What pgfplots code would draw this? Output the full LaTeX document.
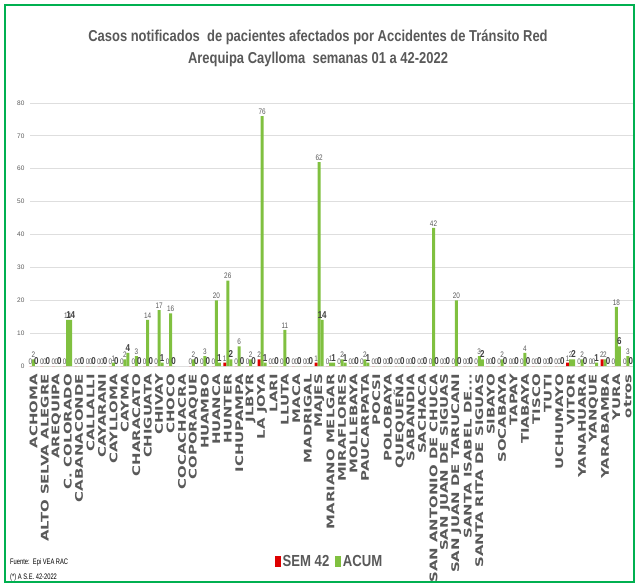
\documentclass[border=0pt]{standalone}
\usepackage{pgfplots}
\pgfplotsset{compat=1.18}
\usepackage{fontspec}
\setmainfont{Liberation Sans}
\newfontfamily\dejab{DejaVu Sans}[BoldFont={DejaVu Sans Bold}]
\definecolor{cgreen}{RGB}{128,192,64}
\definecolor{cred}{RGB}{222,0,0}
\definecolor{ctxt}{RGB}{89,89,89}
\definecolor{cdark}{RGB}{64,64,64}
\definecolor{cframe}{RGB}{0,176,80}
\newcommand\xl[1]{\scalebox{1.42}[1]{#1}}
\newcommand\nar[1]{\scalebox{0.8}[1]{#1}}
\begin{document}
\begin{tikzpicture}
\useasboundingbox (0,0) rectangle (636pt,583pt);
\draw[cframe, line width=1.2pt] (5pt,1pt) rectangle (634pt,578pt);
\node[text=ctxt, font=\bfseries\fontsize{15.8}{17}\selectfont] at (318pt,546pt) {\scalebox{0.82}[1]{Casos notificados\ \ de pacientes afectados por Accidentes de Tránsito Red}};
\node[text=ctxt, font=\bfseries\fontsize{15.8}{17}\selectfont] at (318pt,524pt) {\scalebox{0.82}[1]{Arequipa Caylloma\ \ semanas 01 a 42-2022}};
\node[anchor=west, text=black, font=\fontsize{8}{9}\selectfont, inner sep=0pt] at (10pt,21pt) {\scalebox{0.72}[1]{Fuente:\ \ Epi VEA RAC}};
\node[anchor=west, text=black, font=\fontsize{8}{9}\selectfont, inner sep=0pt] at (10pt,6pt) {\scalebox{0.72}[1]{(*) A S.E. 42-2022}};
\begin{axis}[
  at={(30pt,217pt)}, anchor=south west,
  scale only axis, width=603pt, height=263pt,
  ymin=0, ymax=80, xmin=-0.3, xmax=52.45,
  clip=false,
  axis line style={draw=none},
  ytick={0,10,...,80},
  ymajorgrids, major grid style={draw=black!13, line width=0.9pt},
  major tick length=0pt,
  /pgf/number format/assume math mode=true,
  yticklabel style={font=\fontsize{6.5}{7}\selectfont, text=ctxt, xshift=-2pt},
  xtick={0,...,52},
  xticklabels={\xl{ACHOMA},\xl{ALTO SELVA ALEGRE},\xl{AREQUIPA},\xl{C. COLORADO},\xl{CABANACONDE},\xl{CALLALLI},\xl{CAYARANI},\xl{CAYLLOMA},\xl{CAYMA},\xl{CHARACATO},\xl{CHIGUATA},\xl{CHIVAY},\xl{CHOCO},\xl{COCACHACRA},\xl{COPORAQUE},\xl{HUAMBO},\xl{HUANCA},\xl{HUNTER},\xl{ICHUPAMPA},\xl{JLBYR},\xl{LA JOYA},\xl{LARI},\xl{LLUTA},\xl{MACA},\xl{MADRIGAL},\xl{MAJES},\xl{MARIANO MELGAR},\xl{MIRAFLORES},\xl{MOLLEBAYA},\xl{PAUCARPATA},\xl{POCSI},\xl{POLOBAYA},\xl{QUEQUEÑA},\xl{SABANDIA},\xl{SACHACA},\xl{SAN ANTONIO DE CHUCA},\xl{SAN JUAN DE SIGUAS},\xl{SAN JUAN DE TARUCANI},\xl{SANTA ISABEL DE...},\xl{SANTA RITA DE SIGUAS},\xl{SIBAYO},\xl{SOCABAYA},\xl{TAPAY},\xl{TIABAYA},\xl{TISCO},\xl{TUTI},\xl{UCHUMAYO},\xl{VITOR},\xl{YANAHUARA},\xl{YANQUE},\xl{YARABAMBA},\xl{YURA},\xl{otros}},
  xticklabel style={rotate=90, anchor=east, font=\dejab\bfseries\fontsize{10.5}{11}\selectfont, text=ctxt, inner xsep=8pt, inner ysep=0pt},
  ybar, bar width=3pt,
  legend style={at={(rel axis cs:0.497,-0.745)}, anchor=center, draw=none, fill=none, legend columns=2, font=\bfseries\fontsize{16}{17}\selectfont, text=ctxt, /tikz/every even column/.append style={column sep=4pt}},
  legend image code/.code={\fill[#1] (0pt,-5pt) rectangle (5.5pt,6pt);},
  every node near coord/.append style={font=\fontsize{8}{9}\selectfont, text=ctxt, inner sep=1.5pt},
]
\addplot[fill=cred, draw=none, bar shift=-3pt, nodes near coords={\nar{\pgfmathprintnumber{\pgfplotspointmeta}}}] coordinates {
(0,0)(1,0)(2,0)(3,0)(4,0)(5,0)(6,0)(7,0)(8,0)(9,0)(10,0)(11,0)(12,0)
(14,0)(15,0)(16,0)(17,1)(18,0)(19,0)(20,2)(21,0)(22,0)(23,0)(24,0)(25,1)
(26,0)(27,0)(28,0)(29,0)(30,0)(31,0)(32,0)(33,0)(34,0)(35,0)(36,0)(37,0)
(38,0)(39,0)(40,0)(41,0)(42,0)(43,0)(44,0)(45,0)(46,0)(47,1)(48,0)(49,0)
(50,2)(51,0)(52,0)};
\addlegendentry{\scalebox{0.82}[1]{SEM 42}}
\addplot[fill=cgreen, draw=none, bar shift=0pt, nodes near coords={\nar{\pgfmathprintnumber{\pgfplotspointmeta}}}] coordinates {
(0,2)(1,0)(2,0)(3,14)(4,0)(5,0)(6,0)(7,1)(8,2)(9,3)(10,14)(11,17)(12,16)
(14,2)(15,3)(16,20)(17,26)(18,6)(19,2)(20,76)(21,0)(22,11)(23,0)(24,0)(25,62)
(26,1)(27,2)(28,0)(29,2)(30,0)(31,0)(32,0)(33,0)(34,0)(35,42)(36,0)(37,20)
(38,0)(39,3)(40,0)(41,2)(42,0)(43,4)(44,0)(45,0)(46,0)(47,2)(48,2)(49,0)
(50,2)(51,18)(52,3)};
\addlegendentry{\scalebox{0.82}[1]{ACUM}}
\addplot[fill=cgreen, draw=none, bar shift=3pt, forget plot, nodes near coords={\nar{\pgfmathprintnumber{\pgfplotspointmeta}}}, every node near coord/.append style={font=\bfseries\fontsize{10}{11}\selectfont, text=cdark}] coordinates {
(0,0)(1,0)(2,0)(3,14)(4,0)(5,0)(6,0)(7,0)(8,4)(9,0)(10,0)(11,1)(12,0)
(14,0)(15,0)(16,1)(17,2)(18,0)(19,0)(20,1)(21,0)(22,0)(23,0)(24,0)(25,14)
(26,1)(27,1)(28,0)(29,1)(30,0)(31,0)(32,0)(33,0)(34,0)(35,0)(36,0)(37,0)
(38,0)(39,2)(40,0)(41,0)(42,0)(43,0)(44,0)(45,0)(46,0)(47,2)(48,0)(49,1)
(50,0)(51,6)(52,0)};
\end{axis}
\end{tikzpicture}
\end{document}
